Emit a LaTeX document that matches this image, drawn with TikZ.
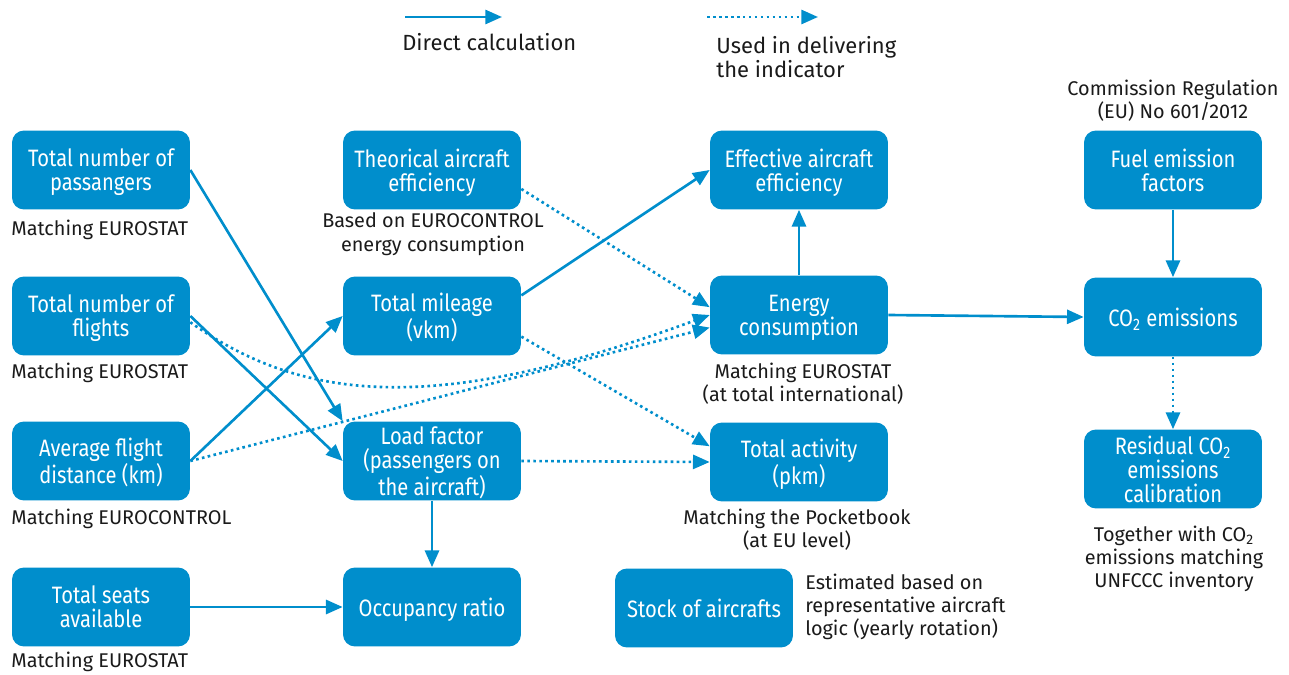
\documentclass[tikz,border=0pt]{standalone}
\usepackage{fontspec}
\setmainfont{Fira Sans}
\newfontfamily\boxfont[FakeStretch=0.85]{Fira Sans}
\usetikzlibrary{arrows.meta,positioning}
\definecolor{euBlue}{RGB}{0,142,204}
\definecolor{noteGrey}{RGB}{26,26,26}
\tikzset{
	block/.style={fill=euBlue,text=white,rounded corners=0.24cm,minimum width=3.56cm,minimum height=1.58cm,inner sep=2pt,text depth=0pt,align=center,font=\boxfont\fontsize{13.5}{13.6}\selectfont},
	note/.style={text=noteGrey,inner sep=0pt,align=center,font=\fontsize{11.3}{13.3}\selectfont},
	calc/.style={color=euBlue,line width=1.5pt,-{Triangle[length=9.5pt,width=8pt]}},
	used/.style={color=euBlue,line width=1.5pt,dash pattern=on 1.5pt off 1.9pt,-{Triangle[length=9.5pt,width=8pt]}}
}
\begin{document}
\begin{tikzpicture}[x=0.02cm,y=0.02cm]
		\useasboundingbox (0,0) rectangle (1289,-675);
		% legend
		\coordinate (calcA) at (405,-17);
		\coordinate (calcB) at (502,-17);
		\coordinate (usedA) at (707,-17);
		\coordinate (usedB) at (818,-17);
		\path[calc] (calcA) edge (calcB);
		\path[used] (usedA) edge (usedB);
		\node[note,anchor=west,font=\fontsize{12.5}{13.6}\selectfont] (calcL) at (402,-42) {Direct calculation};
		\node[note,anchor=west,align=left,font=\fontsize{12.5}{13.6}\selectfont] (usedL) at (716,-57) {Used in delivering\\the indicator};
		% boxes
		\node[block] (passengers) at (101,-170) {Total number of\\passangers};
		\node[block] (flights) at (101,-316) {Total number of\\flights};
		\node[block] (distance) at (101,-461) {Average flight\\distance (km)};
		\node[block] (seats) at (101,-607) {Total seats\\available};
		\node[block] (theor) at (432,-170) {Theorical aircraft\\efficiency};
		\node[block] (mileage) at (432,-316) {Total mileage\\(vkm)};
		\node[block] (loadf) at (432,-461) {Load factor\\(passengers on\\the aircraft)};
		\node[block] (occupancy) at (432,-607) {Occupancy ratio};
		\node[block] (effective) at (799,-170) {Effective aircraft\\efficiency};
		\node[block] (energy) at (799,-315) {Energy\\consumption};
		\node[block] (activity) at (799,-462) {Total activity\\(pkm)};
		\node[block] (stock) at (704,-608) {Stock of aircrafts};
		\node[block] (fuel) at (1173,-170) {Fuel emission\\factors};
		\node[block] (co2) at (1173,-317) {CO\textsubscript{2} emissions};
		\node[block] (residual) at (1173,-469) {Residual CO\textsubscript{2}\\emissions\\calibration};
		% notes
		\node[note,anchor=west] (notePass) at (11,-230) {Matching EUROSTAT};
		\node[note,anchor=west] (noteFlights) at (11,-373) {Matching EUROSTAT};
		\node[note,anchor=west] (noteDist) at (11,-519) {Matching EUROCONTROL};
		\node[note,anchor=west] (noteSeats) at (11,-662) {Matching EUROSTAT};
		\node[note] (noteTheor) at (433,-234) {Based on EUROCONTROL\\energy consumption};
		\node[note] (noteEnergy) at (803,-384) {Matching EUROSTAT\\(at total international)};
		\node[note] (noteAct) at (797,-530) {Matching the Pocketbook\\(at EU level)};
		\node[note,anchor=west,align=left] (noteStock) at (805,-607) {Estimated based on\\representative aircraft\\logic (yearly rotation)};
		\node[note] (noteReg) at (1173,-101) {Commission Regulation\\(EU) No 601/2012};
		\node[note] (noteResid) at (1174,-559) {Together with CO\textsubscript{2}\\emissions matching\\UNFCCC inventory};
		% direct calculation
		\path[calc] (passengers.east) edge (loadf.north west);
		\path[calc] (flights.east) edge (loadf.west);
		\path[calc] (distance.east) edge (mileage.west);
		\path[calc] (mileage.13) edge (effective.west);
		\path[calc] (energy.north) edge (effective.south);
		\path[calc] (energy.east) edge (co2.west);
		\path[calc] (fuel.south) edge (co2.north);
		\path[calc] (loadf.south) edge (occupancy.north);
		\path[calc] (seats.east) edge (occupancy.west);
		% used in delivering the indicator
		\path[used] (theor.-12) edge (energy.175);
		\draw[used] (flights.-4) .. controls (300,-400) and (430,-418) .. (energy.west);
		\path[used] (distance.east) edge (energy.188);
		\path[used] (mileage.-13) edge (activity.170);
		\path[used] (loadf.east) edge (activity.west);
		\path[used] (co2.south) edge (residual.north);
	\end{tikzpicture}
\end{document}
